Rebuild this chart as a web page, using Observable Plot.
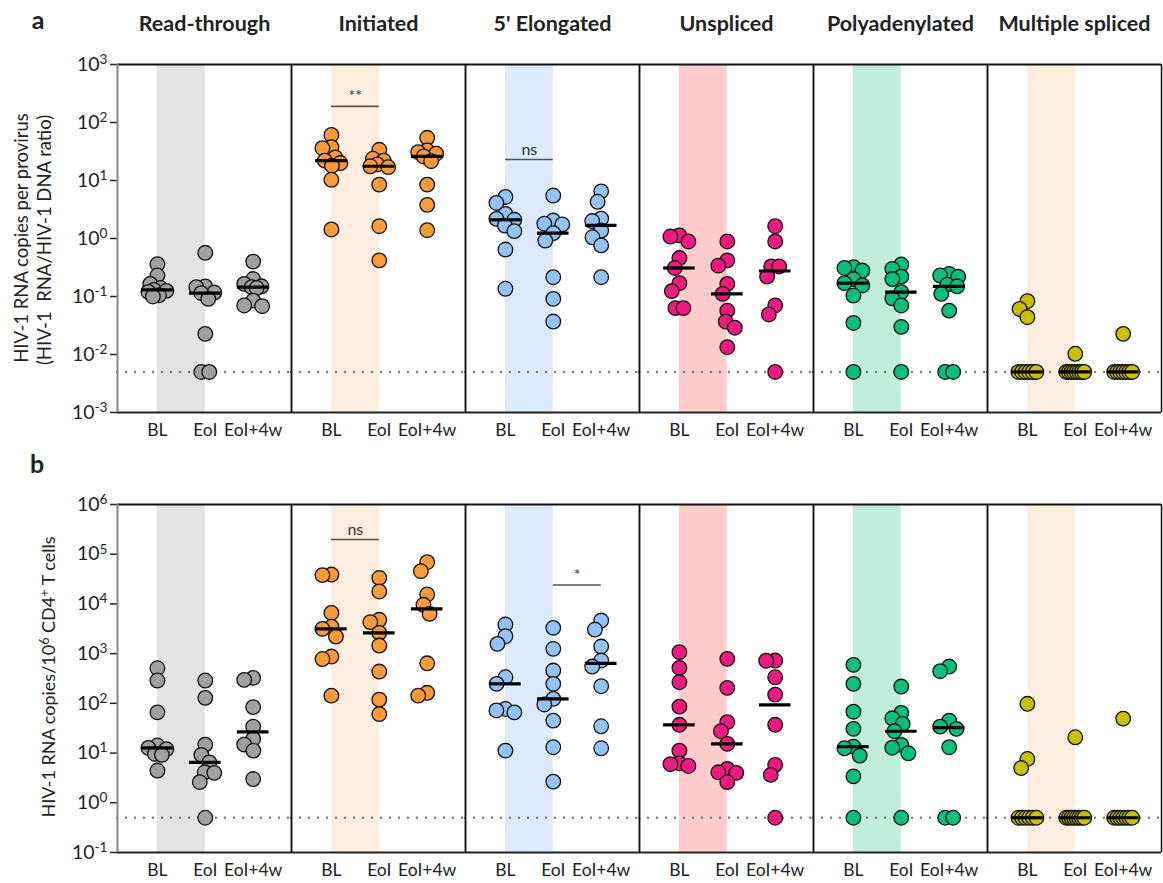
<!DOCTYPE html>
<html><head><meta charset="utf-8">
<script src="https://cdn.jsdelivr.net/npm/d3@7"></script>
<script src="https://cdn.jsdelivr.net/npm/@observablehq/plot@0.6"></script>
<style>
body{margin:0;background:#fff;}
#wrap{position:relative;width:1163px;height:883px;overflow:hidden;}
#wrap svg{position:absolute;left:0;}
[aria-label="y-axis tick"]{stroke:#8a8a8a;stroke-width:1.5px;}
[aria-label="y-axis tick label"]{font-size:19.5px;}
[aria-label="x-axis tick label"]{font-size:17.5px;}
[aria-label="fx-axis tick label"]{font-weight:bold;font-size:21.5px;}
</style></head><body><div id="wrap"></div>
<script>
const categories = ["Read-through","Initiated","5' Elongated","Unspliced","Polyadenylated","Multiple spliced"];
const timepoints = ["BL","EoI","EoI+4w"];
const pointColors = ["#a0a0a2","#f99a3a","#93c2f6","#ee1a7f","#06c07b","#c8c000"];
const bandColors = ["#e3e3e3","#fdeedf","#dceafc","#ffcccc","#c1eedc","#fdeedf"];
const ticksA = [-3,-2,-1,0,1,2,3];
const ticksB = [-1,0,1,2,3,4,5,6];
const lodA = 0.005;
const lodB = 0.5;

// Panel a: HIV-1 RNA copies per provirus (BL, EoI, EoI+4w)
const provReadThrough = [
  [0.36,0.23,0.165,0.14,0.13,0.125,0.12,0.105,0.10],
  [0.567,0.149,0.145,0.117,0.114,0.091,0.0227,0.005,0.005],
  [0.40,0.20,0.165,0.15,0.145,0.14,0.085,0.07,0.068]];
const provInitiated = [
  [61,37.6,36,25,22,20,18,10.3,1.43],
  [33.8,23.7,22,19,17.6,17,8.5,1.63,0.42],
  [54.5,33,30.7,29,26,21.5,8.5,3.8,1.39]];
const provElongated = [
  [5.2,4.1,2.66,2.18,2.1,1.67,1.34,0.645,0.136],
  [5.5,2.04,1.8,1.75,1.24,0.92,0.215,0.091,0.037],
  [6.5,4.3,2.2,2.0,1.37,1.05,0.76,0.215]];
const provUnspliced = [
  [1.13,1.08,0.89,0.46,0.31,0.17,0.124,0.063,0.063],
  [0.89,0.42,0.34,0.165,0.111,0.057,0.037,0.029,0.0134],
  [1.63,0.89,0.33,0.33,0.22,0.07,0.049,0.005]];
const provPolyA = [
  [0.32,0.31,0.28,0.2,0.17,0.155,0.104,0.035,0.005],
  [0.356,0.3,0.22,0.2,0.119,0.093,0.07,0.03,0.005],
  [0.246,0.23,0.22,0.16,0.15,0.111,0.057,0.005,0.005]];
const provMultiSpliced = [
  [0.083,0.061,0.044,0.005,0.005,0.005,0.005,0.005,0.005],
  [0.0103,0.005,0.005,0.005,0.005,0.005,0.005,0.005,0.005],
  [0.0227,0.005,0.005,0.005,0.005,0.005,0.005,0.005]];

// Panel b: HIV-1 RNA copies / 10^6 CD4+ T cells
const cellsReadThrough = [
  [508,288,66,14.2,12.7,12,9.6,9.2,4.45],
  [288,129,14.8,9.2,6.5,4.1,4.0,2.6,0.5],
  [325,297,84,34,19.3,14.8,11.2,3.0]];
const cellsInitiated = [
  [39000,38000,6600,3500,3150,2200,875,780,143],
  [33500,17800,4800,4300,2620,1455,436,119,61],
  [69000,45500,15500,9600,6300,640,163,143]];
const cellsElongated = [
  [3850,2240,1575,335,247,77,72,66,11.2],
  [3300,1250,457,247,123,95,45,13.1,2.67],
  [4630,3050,1390,726,550,221,34.6,12.5]];
const cellsUnspliced = [
  [1070,518,266,86,37,11.2,6.2,6.0,5.5],
  [785,205,41.7,27.5,15.3,4.8,4.1,4.0,2.6],
  [726,720,335,150,37,5.8,3.64,0.5]];
const cellsPolyA = [
  [595,247,68,30.7,13.5,12.5,8.9,3.4,0.5],
  [218,64,50,38.6,27.5,14.6,12.8,9.9,0.5],
  [550,443,45,34,30.7,13.1,0.5,0.5]];
const cellsMultiSpliced = [
  [98,7.6,5.0,0.5,0.5,0.5,0.5,0.5,0.5],
  [20.8,0.5,0.5,0.5,0.5,0.5,0.5,0.5,0.5],
  [49.4,0.5,0.5,0.5,0.5,0.5,0.5,0.5]];

// significance brackets: [category, from, to, value, label]
const sigA = [["Initiated","BL","EoI",190,"**"],["5' Elongated","BL","EoI",23,"ns"]];
const sigB = [["Initiated","BL","EoI",198000,"ns"],["5' Elongated","EoI","EoI+4w",24000,"*"]];

const W = 1163, ML = 116, MR = 1;
const xDomain = [0.167, 3.8];

function swarm(values, pxDec, pxUnit) {
  const d = 11, tieSpacing = 8, maxHalf = 9;
  const n = values.length;
  const ypx = values.map(v => -Math.log10(v) * pxDec);
  const off = new Array(n).fill(null);
  const groups = d3.group(d3.range(n), i => values[i]);
  for (const [, idx] of groups) {
    if (idx.length > 1) {
      const s = Math.min(tieSpacing, 2 * maxHalf / (idx.length - 1));
      idx.forEach((i, k) => off[i] = (k - (idx.length - 1) / 2) * s);
    }
  }
  const placed = d3.range(n).filter(i => off[i] !== null);
  const order = d3.range(n).filter(i => off[i] === null).sort((a, b) => values[b] - values[a]);
  for (const i of order) {
    const iv = [];
    for (const j of placed) {
      const dy = Math.abs(ypx[i] - ypx[j]);
      if (dy < d) { const w = Math.sqrt(d * d - dy * dy); iv.push([off[j] - w, off[j] + w]); }
    }
    const cands = [0, ...iv.flat()].sort((a, b) => Math.abs(a) - Math.abs(b));
    const free = cands.filter(c => Math.abs(c) <= maxHalf + 1e-9 && iv.every(([a, b]) => c <= a + 1e-9 || c >= b - 1e-9));
    let x = 0;
    if (free.length) x = free[0];
    else {
      let bestScore = -Infinity;
      for (let c = -maxHalf; c <= maxHalf + 1e-9; c += 0.5) {
        let score = Infinity;
        for (const j of placed) score = Math.min(score, Math.hypot(c - off[j], ypx[i] - ypx[j]));
        if (score > bestScore + 1e-9 || (Math.abs(score - bestScore) < 1e-9 && Math.abs(c) < Math.abs(x))) { x = c; bestScore = score; }
      }
    }
    off[i] = x;
    placed.push(i);
  }
  return off.map(o => o / pxUnit);
}

function supText(sel, parts) {
  let up = false;
  parts.forEach(([t, sup]) => {
    const ts = sel.append("tspan").text(t);
    if (sup && !up) { ts.attr("dy", "-0.5em").attr("font-size", "0.7em"); up = true; }
    else if (!sup && up) { ts.attr("dy", "0.35em"); up = false; }
    else if (sup) ts.attr("font-size", "0.7em");
  });
}

function buildPanel({series, ticks, lod, sig, height, marginTop, marginBottom, showFx}) {
  const yDomain = [10 ** ticks[0], 10 ** ticks[ticks.length - 1]];
  const pxDec = (height - marginTop - marginBottom) / (ticks[ticks.length - 1] - ticks[0]);
  const facetW = (W - ML - MR) / categories.length;
  const pxUnit = facetW / (xDomain[1] - xDomain[0]);
  const points = [], medians = [];
  series.forEach((groups, ci) => groups.forEach((vals, ti) => {
    const offs = swarm(vals, pxDec, pxUnit);
    vals.forEach((v, k) => points.push({cat: categories[ci], x: ti + 1 + offs[k], v, fill: pointColors[ci]}));
    medians.push({cat: categories[ci], t: ti + 1, m: d3.median(vals)});
  }));
  const bands = categories.map((cat, i) => ({cat, fill: bandColors[i]}));
  const edges = categories.flatMap((cat, i) => [
    {cat, x: xDomain[0], s: i === 0 ? "#8a8a8a" : "#111", w: i === 0 ? 2 : 1.5},
    {cat, x: xDomain[1], s: "#111", w: 1.5}]);
  const sigRows = sig.map(([cat, a, b, y, label]) => ({cat, x1: timepoints.indexOf(a) + 1, x2: timepoints.indexOf(b) + 1, y, label}));
  const svg = Plot.plot({
    width: W, height, marginLeft: ML, marginRight: MR, marginTop, marginBottom,
    style: {fontFamily: "Lato, sans-serif", fontSize: "17px", color: "#222", background: "transparent"},
    fx: {domain: categories, padding: 0, axis: showFx ? "top" : null, label: null, tickSize: 0, tickPadding: 34},
    x: {domain: xDomain, ticks: [1, 2, 3], tickFormat: d => timepoints[d - 1], tickSize: 0, tickPadding: 11, label: null},
    y: {type: "log", domain: yDomain, ticks: ticks.map(e => 10 ** e), tickFormat: d => "10^" + Math.round(Math.log10(d)), tickSize: 7, tickPadding: 3, label: null},
    color: {type: "identity"},
    marks: [
      Plot.rect(bands, {fx: "cat", x1: () => 1, x2: () => 2, y1: () => yDomain[0], y2: () => yDomain[1], fill: "fill"}),
      Plot.ruleY([lod], {stroke: "#7a7a7a", strokeWidth: 2.4, strokeDasharray: "0,9", strokeLinecap: "round"}),
      Plot.ruleY(sigRows, {fx: "cat", y: "y", x1: "x1", x2: "x2", stroke: "#555", strokeWidth: 1.6}),
      Plot.text(sigRows, {fx: "cat", y: "y", x: d => (d.x1 + d.x2) / 2, text: "label", dy: -10, fontSize: 16, fill: "#333"}),
      Plot.dot(points, {fx: "cat", x: "x", y: "v", r: 7.3, fill: "fill", stroke: "#111", strokeWidth: 1.3}),
      Plot.ruleY(medians, {fx: "cat", y: "m", x1: d => d.t - 0.33, x2: d => d.t + 0.33, stroke: "#000", strokeWidth: 3.2}),
      Plot.ruleY([yDomain[1]], {stroke: "#111", strokeWidth: 2}),
      Plot.ruleY([yDomain[0]], {stroke: "#222", strokeWidth: 2}),
      Plot.ruleX(edges, {fx: "cat", x: "x", stroke: "s", strokeWidth: "w"})
    ]
  });
  d3.select(svg).selectAll('g[aria-label="y-axis tick label"] text').each(function() {
    const m = /^10\^(.+)$/.exec(this.textContent);
    if (!m) return;
    const sel = d3.select(this);
    sel.text(null);
    supText(sel, [["10", false], [m[1], true]]);
  });
  return svg;
}

const wrap = document.getElementById("wrap");

const svgA = buildPanel({
  series: [provReadThrough, provInitiated, provElongated, provUnspliced, provPolyA, provMultiSpliced],
  ticks: ticksA, lod: lodA, sig: sigA, height: 445, marginTop: 64, marginBottom: 33, showFx: true});
svgA.style.top = "0px";
wrap.appendChild(svgA);
{
  const g = d3.select(svgA).append("g").attr("font-family", "Lato, sans-serif").attr("fill", "#222");
  g.append("text").attr("x", 38).attr("y", 29).attr("font-size", 25).attr("font-weight", "bold").text("a");
  g.append("text").attr("transform", "translate(28,238) rotate(-90)").attr("text-anchor", "middle").attr("font-size", 18.5).text("HIV-1 RNA copies per provirus");
  g.append("text").attr("transform", "translate(51,240) rotate(-90)").attr("text-anchor", "middle").attr("font-size", 18.5).style("white-space", "pre").text("(HIV-1  RNA/HIV-1 DNA ratio)");
}

const svgB = buildPanel({
  series: [cellsReadThrough, cellsInitiated, cellsElongated, cellsUnspliced, cellsPolyA, cellsMultiSpliced],
  ticks: ticksB, lod: lodB, sig: sigB, height: 438, marginTop: 59, marginBottom: 31, showFx: false});
svgB.style.top = "445px";
wrap.appendChild(svgB);
{
  const g = d3.select(svgB).append("g").attr("font-family", "Lato, sans-serif").attr("fill", "#222");
  g.append("text").attr("x", 37).attr("y", 28).attr("font-size", 25).attr("font-weight", "bold").text("b");
  const t = g.append("text").attr("transform", "translate(55,232) rotate(-90)").attr("text-anchor", "middle").attr("font-size", 18);
  supText(t, [["HIV-1 RNA copies/10", false], ["6", true], [" CD4", false], ["+", true], [" T cells", false]]);
}
</script></body></html>
